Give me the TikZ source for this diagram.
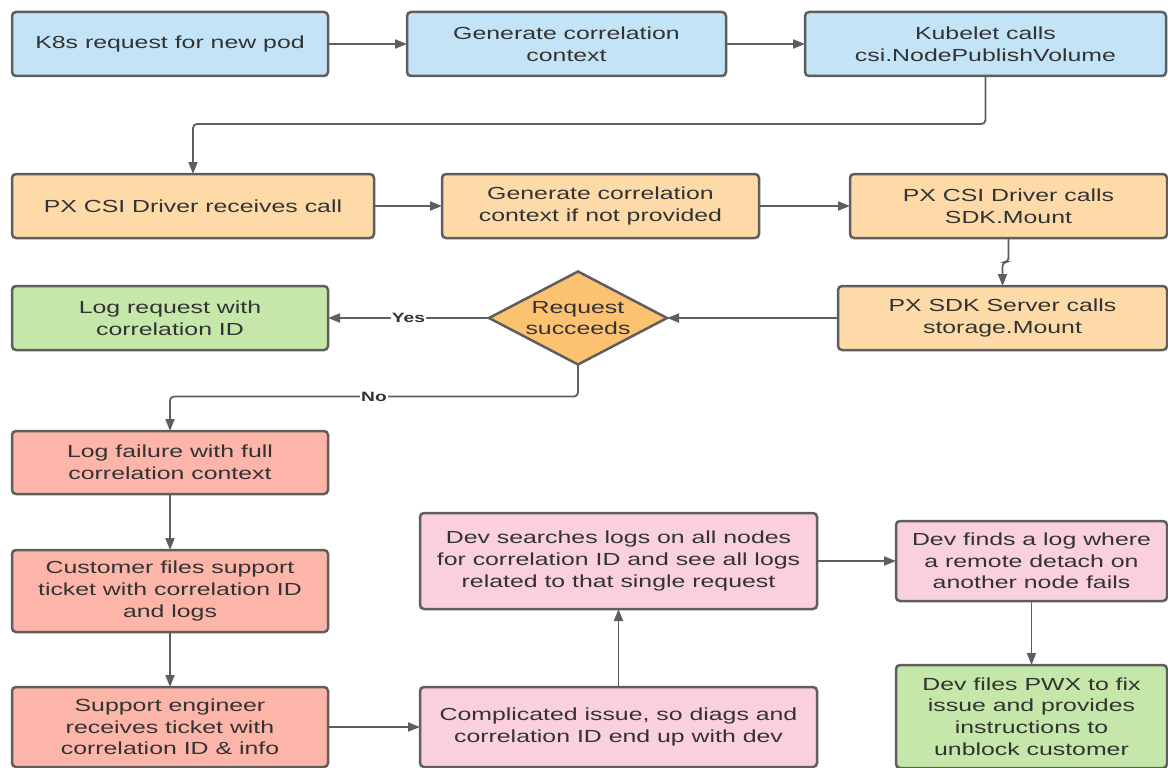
\documentclass[tikz,border=0pt]{standalone}
\usepackage{fontspec}
\setmainfont{Liberation Sans}[FakeStretch=1.42]
\usetikzlibrary{positioning,quotes,arrows.meta,shapes.geometric}

\definecolor{bluefill}{HTML}{C3E3F6}
\definecolor{orangefill}{HTML}{FEDAA8}
\definecolor{decisionfill}{HTML}{FCC272}
\definecolor{greenfill}{HTML}{C5E7AA}
\definecolor{redfill}{HTML}{FDB5A9}
\definecolor{pinkfill}{HTML}{F9D0DB}
\definecolor{linegray}{HTML}{5E5E5E}
\definecolor{textgray}{HTML}{333333}

\newcommand\boxfont{\fontsize{17.5pt}{21.7pt}\selectfont}
\newcommand\answerfont{\fontsize{13.5pt}{15pt}\selectfont\bfseries}

\begin{document}
\begin{tikzpicture}[
    x = 1pt, y = 1pt,
    every node/.style = {font=\boxfont, text=textgray, align=center},
    box/.style = {draw=linegray, line width=2.5pt, rounded corners=4pt,
      inner sep=2pt, outer sep=0pt},
    bluebox/.style = {box, fill=bluefill},
    orangebox/.style = {box, fill=orangefill},
    greenbox/.style = {box, fill=greenfill},
    redbox/.style = {box, fill=redfill},
    pinkbox/.style = {box, fill=pinkfill},
    decision/.style = {shape=diamond, draw=linegray, line width=2.5pt,
      fill=decisionfill, inner sep=0pt, outer sep=0pt, aspect=1.91,
      minimum width=178pt, minimum height=93pt},
    flow/.style = {draw=linegray, line width=1.8pt, rounded corners=4pt,
      -{Triangle[length=12pt, width=9pt]}},
    answer/.style = {font=\answerfont, text=textgray, fill=white, inner sep=1pt},
    every edge/.style = {flow},
    every edge quotes/.style = {answer}]
  \useasboundingbox (0,0) rectangle (1168,-768);

  % kubernetes side
  \node (req) [bluebox, minimum width=316pt, minimum height=64pt] at (170,-44)
    {K8s request for new pod};
  \node (genctx) [bluebox, minimum width=319pt, minimum height=64pt,
    right = 79pt of req] {Generate correlation\\context};
  \node (kubelet) [bluebox, minimum width=361pt, minimum height=64pt,
    right = 79pt of genctx] {Kubelet calls\\csi.NodePublishVolume};

  % csi driver and sdk
  \node (csidrv) [orangebox, minimum width=362pt, minimum height=64pt,
    below = 98pt of req.south west, anchor=north west] {PX CSI Driver receives call};
  \node (genctx2) [orangebox, minimum width=317pt, minimum height=64pt,
    right = 68pt of csidrv] {Generate correlation\\context if not provided};
  \node (sdkcall) [orangebox, minimum width=317pt, minimum height=64pt,
    right = 91pt of genctx2] {PX CSI Driver calls\\SDK.Mount};
  \node (sdksrv) [orangebox, minimum width=329pt, minimum height=64pt,
    below = 48pt of sdkcall.south east, anchor=north east] {PX SDK Server calls\\storage.Mount};
  \node (succeeds) [decision, left = 171pt of sdksrv] {Request\\succeeds};
  \node (logok) [greenbox, minimum width=316pt, minimum height=64pt,
    left = 161pt of succeeds] {Log request with\\correlation ID};

  % failure handling
  \node (logfail) [redbox, minimum width=316pt, minimum height=63pt,
    below = 81pt of logok] {Log failure with full\\correlation context};
  \node (custfile) [redbox, minimum width=316pt, minimum height=82pt,
    below = 56pt of logfail] {Customer files support\\ticket with correlation ID\\and logs};
  \node (support) [redbox, minimum width=316pt, minimum height=80pt,
    below = 55pt of custfile] {Support engineer\\receives ticket with\\correlation ID \& info};
  \node (complicated) [pinkbox, minimum width=397pt, minimum height=80pt,
    right = 92pt of support] {Complicated issue, so diags and\\correlation ID end up with dev};
  \node (devsearch) [pinkbox, minimum width=397pt, minimum height=96pt,
    above = 78pt of complicated] {Dev searches logs on all nodes\\for correlation ID and see all logs\\related to that single request};
  \node (devfind) [pinkbox, minimum width=271pt, minimum height=80pt,
    right = 79pt of devsearch] {Dev finds a log where\\a remote detach on\\another node fails};
  \node (devfix) [greenbox, minimum width=271pt, minimum height=103pt,
    below = 64pt of devfind] {Dev files PWX to fix\\issue and provides\\instructions to\\unblock customer};

  \draw (req) edge (genctx);
  \draw (genctx) edge (kubelet);
  \draw [flow] (kubelet.south) -- ++(0,-48) -| (csidrv.north);
  \draw (csidrv) edge (genctx2);
  \draw (genctx2) edge (sdkcall);
  \draw [flow] (sdkcall.south) -- ++(0,-24) -| (sdksrv.north);
  \draw (sdksrv) edge (succeeds);
  \draw (succeeds) edge ["Yes"] (logok);
  \draw [flow] (succeeds.south) -- ++(0,-32) -| node [pos=0.25, answer] {No} (logfail.north);
  \draw (logfail) edge (custfile);
  \draw (custfile) edge (support);
  \draw (support) edge (complicated);
  \draw (complicated) edge (devsearch);
  \draw (devsearch) edge (devfind);
  \draw (devfind) edge (devfix);
\end{tikzpicture}
\end{document}
